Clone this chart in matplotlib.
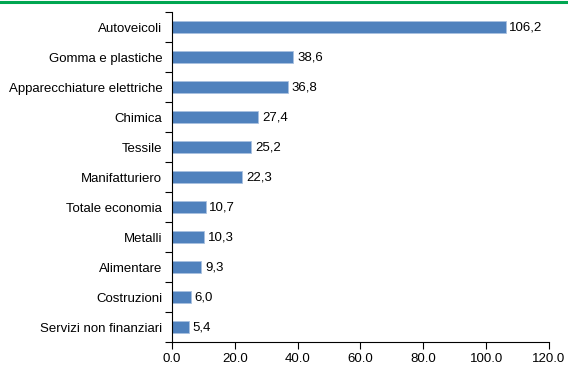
import matplotlib
matplotlib.use("Agg")
import matplotlib.pyplot as plt
from matplotlib.lines import Line2D
from matplotlib.ticker import FixedLocator

plt.rcParams['font.family'] = ['Liberation Sans Narrow', 'Liberation Sans', 'DejaVu Sans']

categories = ["Autoveicoli", "Gomma e plastiche", "Apparecchiature elettriche", "Chimica",
              "Tessile", "Manifatturiero", "Totale economia", "Metalli", "Alimentare",
              "Costruzioni", "Servizi non finanziari"]
values = [106.2, 38.6, 36.8, 27.4, 25.2, 22.3, 10.7, 10.3, 9.3, 6.0, 5.4]
xticks = [0, 20, 40, 60, 80, 100, 120]

fig = plt.figure(figsize=(5.68, 3.65), dpi=100)
ax = fig.add_axes([172/568, 1 - 342/365, (549 - 172)/568, 330/365])

pos = list(range(len(categories)))[::-1]
ax.barh(pos, values, height=0.4, color="#4F81BD", edgecolor="#A9C1E0", linewidth=0.6)
for p, v in zip(pos, values):
    ax.text(v + 1.2, p, f"{v:.1f}".replace(".", ","), va="center", ha="left", fontsize=9.5)

ax.set_ylim(-0.5, len(categories) - 0.5)
ax.set_xlim(0, 120)
ax.set_yticks(pos)
ax.set_yticklabels(categories, fontsize=9.5)
ax.yaxis.set_minor_locator(FixedLocator([p - 0.5 for p in range(len(categories) + 1)]))
ax.tick_params(axis="y", which="major", length=0, pad=7)
ax.tick_params(axis="y", which="minor", length=5, width=0.8, direction="out")
ax.set_xticks(xticks)
ax.set_xticklabels([f"{t:.1f}" for t in xticks], fontsize=9.5)
ax.tick_params(axis="x", length=5, width=0.8, direction="out", pad=3)

for s in ["top", "right"]:
    ax.spines[s].set_visible(False)
for s in ["left", "bottom"]:
    ax.spines[s].set_linewidth(0.8)

fig.add_artist(Line2D([0, 1], [1 - 1.5/365, 1 - 1.5/365], color="#00A651", linewidth=2.2,
                      transform=fig.transFigure))

fig.savefig("out.png", dpi=100)
